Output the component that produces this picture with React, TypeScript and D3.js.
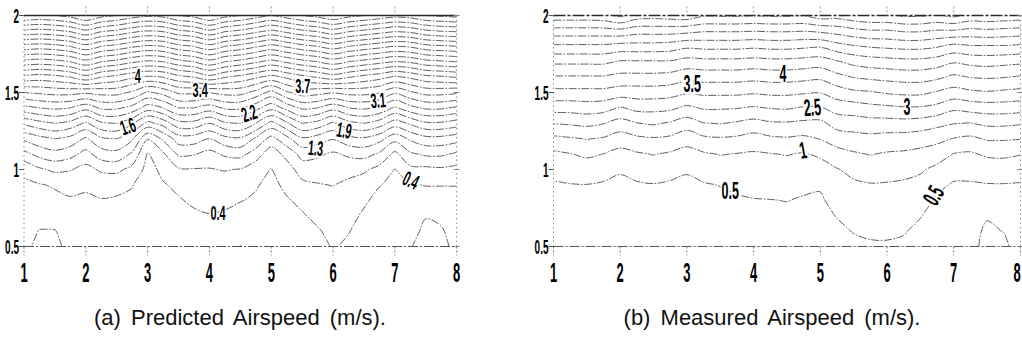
import React from "react";
import * as d3 from "d3";

const W = 1022;
const H = 341;

// grid positions (data units)
const gridX = [1, 1.25, 1.5, 1.75, 2, 2.25, 2.5, 2.75, 3, 3.25, 3.5, 3.75, 4, 4.25, 4.5, 4.75, 5, 5.25, 5.5, 5.75, 6, 6.25, 6.5, 6.75, 7, 7.25, 7.5, 7.75, 8];
const gridY = [0.5, 0.6, 0.7, 0.8, 0.9, 1.0, 1.1, 1.2, 1.3, 1.4, 1.5, 1.6, 1.7, 1.8, 1.9, 2.0];

// (a) predicted airspeed, one column per gridX, values bottom (0.5) to top (2.0)
const predicted = [
  [0.15, 0.2, 0.25, 0.3, 0.36, 0.45, 0.9, 1.35, 1.95, 2.7, 3.4, 4.2, 5.1, 6.0, 6.95, 7.9],
  [0.05, 0.09, 0.2, 0.3, 0.38, 0.65, 1.1, 1.5, 2.1, 2.8, 3.45, 4.15, 5.05, 5.95, 6.9, 7.85],
  [0.06, 0.09, 0.22, 0.33, 0.43, 0.76, 1.2, 1.6, 2.2, 2.85, 3.5, 4.2, 5.1, 6.0, 6.95, 7.9],
  [0.15, 0.2, 0.27, 0.38, 0.46, 0.72, 1.1, 1.5, 2.1, 2.8, 3.5, 4.3, 5.2, 6.1, 7.05, 8.0],
  [0.18, 0.22, 0.28, 0.37, 0.43, 0.6, 0.9, 1.25, 1.85, 2.6, 3.45, 4.5, 5.4, 6.3, 7.25, 8.2],
  [0.2, 0.24, 0.3, 0.39, 0.47, 0.75, 1.15, 1.55, 2.15, 2.85, 3.5, 4.3, 5.2, 6.1, 7.05, 8.0],
  [0.22, 0.26, 0.31, 0.38, 0.45, 0.78, 1.2, 1.6, 2.2, 2.85, 3.5, 4.2, 5.1, 6.0, 6.95, 7.9],
  [0.2, 0.24, 0.3, 0.36, 0.41, 0.6, 0.95, 1.35, 1.95, 2.7, 3.35, 4.05, 4.95, 5.85, 6.8, 7.75],
  [0.18, 0.2, 0.22, 0.25, 0.28, 0.31, 0.37, 0.72, 1.5, 2.35, 3.05, 3.95, 4.85, 5.75, 6.7, 7.65],
  [0.2, 0.22, 0.26, 0.32, 0.38, 0.46, 0.65, 1.05, 1.72, 2.5, 3.2, 4.0, 4.9, 5.8, 6.75, 7.7],
  [0.2, 0.24, 0.3, 0.38, 0.45, 0.66, 1.05, 1.45, 2.1, 2.8, 3.45, 4.2, 5.1, 6.0, 6.95, 7.9],
  [0.22, 0.28, 0.36, 0.44, 0.52, 0.68, 1.02, 1.45, 2.1, 2.8, 3.45, 4.3, 5.2, 6.1, 7.05, 8.0],
  [0.25, 0.31, 0.39, 0.46, 0.55, 0.68, 0.9, 1.3, 1.9, 2.65, 3.42, 4.5, 5.4, 6.3, 7.25, 8.2],
  [0.22, 0.28, 0.37, 0.45, 0.53, 0.72, 1.05, 1.5, 2.15, 2.85, 3.5, 4.32, 5.2, 6.1, 7.05, 8.0],
  [0.09, 0.22, 0.32, 0.41, 0.5, 0.68, 1.1, 1.55, 2.2, 2.85, 3.5, 4.2, 5.1, 6.0, 6.95, 7.9],
  [0.2, 0.25, 0.3, 0.37, 0.42, 0.52, 0.85, 1.25, 1.9, 2.6, 3.3, 4.05, 4.95, 5.85, 6.8, 7.75],
  [0.22, 0.25, 0.28, 0.31, 0.34, 0.39, 0.52, 0.9, 1.5, 2.3, 3.0, 3.9, 4.8, 5.7, 6.65, 7.6],
  [0.25, 0.28, 0.32, 0.38, 0.45, 0.55, 0.8, 1.2, 1.85, 2.6, 3.35, 4.05, 4.95, 5.85, 6.8, 7.75],
  [0.28, 0.32, 0.38, 0.45, 0.62, 0.85, 1.1, 1.55, 2.2, 2.85, 3.55, 4.2, 5.1, 6.0, 6.95, 7.9],
  [0.32, 0.38, 0.45, 0.52, 0.68, 0.85, 1.05, 1.45, 2.1, 2.8, 3.5, 4.32, 5.2, 6.1, 7.05, 8.0],
  [0.42, 0.46, 0.52, 0.6, 0.71, 0.85, 0.95, 1.32, 1.85, 2.6, 3.42, 4.45, 5.35, 6.25, 7.2, 8.15],
  [0.36, 0.41, 0.46, 0.54, 0.63, 0.8, 1.05, 1.5, 2.1, 2.8, 3.5, 4.32, 5.2, 6.1, 7.05, 8.0],
  [0.28, 0.32, 0.37, 0.43, 0.55, 0.75, 1.1, 1.55, 2.2, 2.85, 3.5, 4.2, 5.1, 6.0, 6.95, 7.9],
  [0.2, 0.24, 0.29, 0.34, 0.41, 0.6, 0.95, 1.4, 2.05, 2.75, 3.42, 4.1, 5.0, 5.9, 6.85, 7.8],
  [0.15, 0.2, 0.25, 0.3, 0.35, 0.39, 0.62, 1.1, 1.75, 2.45, 3.15, 3.95, 4.9, 5.8, 6.75, 7.7],
  [0.11, 0.16, 0.24, 0.32, 0.38, 0.62, 0.95, 1.35, 1.95, 2.7, 3.35, 4.05, 4.95, 5.85, 6.8, 7.75],
  [0.03, 0.06, 0.11, 0.28, 0.41, 0.62, 1.05, 1.5, 2.15, 2.85, 3.5, 4.2, 5.1, 6.0, 6.95, 7.9],
  [0.05, 0.08, 0.14, 0.28, 0.41, 0.65, 1.05, 1.5, 2.15, 2.85, 3.5, 4.25, 5.15, 6.05, 7.02, 7.95],
  [0.15, 0.18, 0.22, 0.3, 0.41, 0.6, 0.95, 1.42, 2.05, 2.75, 3.45, 4.32, 5.2, 6.1, 7.05, 8.0],
];

// (b) measured airspeed
const measured = [
  [0.2, 0.27, 0.33, 0.4, 0.46, 0.61, 0.89, 1.38, 2.02, 2.7, 3.35, 3.95, 4.6, 5.4, 6.3, 7.3],
  [0.2, 0.27, 0.34, 0.41, 0.48, 0.72, 0.98, 1.45, 2.06, 2.7, 3.35, 3.95, 4.6, 5.4, 6.3, 7.3],
  [0.2, 0.27, 0.34, 0.42, 0.49, 0.76, 1.08, 1.52, 2.12, 2.75, 3.35, 3.95, 4.6, 5.4, 6.3, 7.3],
  [0.2, 0.27, 0.33, 0.4, 0.46, 0.64, 0.99, 1.45, 2.02, 2.7, 3.35, 3.95, 4.6, 5.4, 6.3, 7.35],
  [0.2, 0.26, 0.32, 0.38, 0.44, 0.53, 0.84, 1.25, 1.81, 2.45, 3.25, 3.85, 4.45, 5.3, 6.35, 7.6],
  [0.2, 0.27, 0.33, 0.4, 0.46, 0.63, 0.94, 1.4, 1.98, 2.65, 3.25, 3.85, 4.45, 5.3, 6.2, 7.25],
  [0.2, 0.27, 0.34, 0.41, 0.48, 0.71, 1.02, 1.45, 2.06, 2.65, 3.25, 3.85, 4.45, 5.3, 6.2, 7.2],
  [0.2, 0.26, 0.33, 0.39, 0.46, 0.6, 0.93, 1.4, 1.94, 2.6, 3.2, 3.8, 4.45, 5.25, 6.2, 7.25],
  [0.2, 0.26, 0.32, 0.38, 0.44, 0.53, 0.82, 1.2, 1.75, 2.4, 3.05, 3.65, 4.3, 5.1, 6.15, 7.3],
  [0.2, 0.27, 0.33, 0.4, 0.47, 0.65, 0.94, 1.4, 1.98, 2.55, 3.1, 3.7, 4.35, 5.15, 6.05, 7.05],
  [0.2, 0.28, 0.35, 0.43, 0.51, 0.75, 1.02, 1.45, 2.02, 2.55, 3.1, 3.7, 4.35, 5.15, 6.05, 7.05],
  [0.2, 0.28, 0.37, 0.45, 0.58, 0.78, 0.98, 1.41, 1.94, 2.52, 3.1, 3.7, 4.35, 5.15, 6.05, 7.05],
  [0.2, 0.29, 0.39, 0.48, 0.63, 0.78, 0.94, 1.3, 1.83, 2.45, 3.05, 3.65, 4.3, 5.1, 6.02, 7.02],
  [0.2, 0.3, 0.4, 0.49, 0.66, 0.82, 0.98, 1.41, 1.94, 2.52, 3.1, 3.7, 4.35, 5.15, 6.05, 7.05],
  [0.2, 0.3, 0.4, 0.51, 0.67, 0.83, 1.02, 1.45, 1.95, 2.55, 3.1, 3.7, 4.35, 5.15, 6.05, 7.05],
  [0.2, 0.29, 0.37, 0.46, 0.59, 0.78, 0.96, 1.4, 1.9, 2.45, 3.05, 3.65, 4.3, 5.1, 6.02, 7.02],
  [0.2, 0.28, 0.36, 0.44, 0.55, 0.8, 1.08, 1.52, 1.88, 2.45, 3.02, 3.6, 4.25, 5.05, 6.1, 7.25],
  [0.3, 0.4, 0.52, 0.66, 0.81, 0.97, 1.31, 1.73, 2.2, 2.7, 3.25, 3.85, 4.45, 5.3, 6.2, 7.2],
  [0.4, 0.52, 0.64, 0.78, 0.92, 1.13, 1.44, 1.81, 2.25, 2.75, 3.4, 4.02, 4.65, 5.45, 6.35, 7.35],
  [0.45, 0.56, 0.69, 0.83, 0.97, 1.22, 1.52, 1.86, 2.3, 2.85, 3.45, 4.1, 4.75, 5.55, 6.45, 7.45],
  [0.45, 0.57, 0.7, 0.83, 0.96, 1.18, 1.45, 1.81, 2.3, 2.9, 3.55, 4.15, 4.8, 5.6, 6.45, 7.45],
  [0.42, 0.53, 0.66, 0.8, 0.93, 1.14, 1.42, 1.79, 2.32, 2.95, 3.6, 4.2, 4.85, 5.65, 6.55, 7.55],
  [0.3, 0.4, 0.52, 0.68, 0.86, 1.06, 1.35, 1.73, 2.27, 2.95, 3.6, 4.2, 4.85, 5.65, 6.55, 7.55],
  [0.2, 0.27, 0.34, 0.44, 0.59, 0.88, 1.23, 1.64, 2.14, 2.85, 3.45, 4.1, 4.75, 5.55, 6.45, 7.45],
  [0.2, 0.27, 0.33, 0.4, 0.46, 0.64, 0.98, 1.48, 2.02, 2.6, 3.3, 3.9, 4.55, 5.35, 6.45, 7.6],
  [0.35, 0.38, 0.41, 0.44, 0.47, 0.6, 0.93, 1.4, 1.98, 2.7, 3.4, 4.02, 4.65, 5.45, 6.35, 7.35],
  [0.65, 0.56, 0.47, 0.46, 0.48, 0.69, 1.08, 1.55, 2.1, 2.75, 3.45, 4.05, 4.7, 5.45, 6.4, 7.4],
  [0.6, 0.49, 0.45, 0.46, 0.48, 0.72, 1.1, 1.55, 2.1, 2.75, 3.4, 4.02, 4.65, 5.45, 6.35, 7.35],
  [0.3, 0.32, 0.36, 0.41, 0.47, 0.66, 1.02, 1.52, 2.05, 2.7, 3.35, 3.95, 4.6, 5.4, 6.3, 7.3],
];

const predictedLevels = [0.1, 0.4, 0.7, 1.0, 1.3, 1.6, 1.9, 2.2, 2.5, 2.8, 3.1, 3.4, 3.7, 4.0, 4.3, 4.6, 4.9, 5.2, 5.5, 5.8, 6.1, 6.4, 6.7, 7.0, 7.3, 7.6, 7.9];
const measuredLevels = [0.5, 1.0, 1.5, 2.0, 2.5, 3.0, 3.5, 4.0, 4.5, 5.0, 5.5, 6.0, 6.5, 7.0, 7.5];

const xTicks = [1, 2, 3, 4, 5, 6, 7, 8];
const yTicks = [0.5, 1, 1.5, 2];
const yTickLabels = ["0.5", "1", "1.5", "2"];

const predictedLabels = [
  { t: "4", x: 2.84, y: 1.614, a: 0 },
  { t: "3.4", x: 3.85, y: 1.523, a: 0 },
  { t: "3.7", x: 5.51, y: 1.549, a: 0 },
  { t: "3.1", x: 6.73, y: 1.451, a: -5 },
  { t: "2.2", x: 4.64, y: 1.367, a: -18 },
  { t: "1.6", x: 2.68, y: 1.282, a: -18 },
  { t: "1.9", x: 6.18, y: 1.256, a: 10 },
  { t: "1.3", x: 5.72, y: 1.14, a: 5 },
  { t: "0.4", x: 4.14, y: 0.718, a: 0 },
  { t: "0.4", x: 7.26, y: 0.932, a: 25 },
];
const measuredLabels = [
  { t: "3.5", x: 3.08, y: 1.562, a: 0 },
  { t: "4", x: 4.44, y: 1.627, a: 0 },
  { t: "2.5", x: 4.88, y: 1.406, a: -5 },
  { t: "3", x: 6.3, y: 1.412, a: 0 },
  { t: "1", x: 4.74, y: 1.127, a: -10 },
  { t: "0.5", x: 3.65, y: 0.867, a: 0 },
  { t: "0.5", x: 6.69, y: 0.834, a: -60 },
];

type Pt = [number, number];

function extractLines(values: number[], nx: number, ny: number, levels: number[]) {
  const gen = d3.contours().size([nx, ny]).thresholds(levels);
  const out: { level: number; pts: Pt[]; closed: boolean }[] = [];
  const isB = (p: Pt) => p[0] <= 0 || p[0] >= nx || p[1] <= 0 || p[1] >= ny;
  for (const c of gen(values)) {
    for (const poly of c.coordinates as any) {
      for (const ring of poly as Pt[][]) {
        const pts = (ring as Pt[]).slice(0, -1);
        const n = pts.length;
        let start = -1;
        for (let i = 0; i < n; i++) if (isB(pts[i])) { start = i; break; }
        if (start < 0) {
          if (n > 2) out.push({ level: c.value, pts, closed: true });
          continue;
        }
        let cur: Pt[] = [];
        for (let k = 1; k <= n; k++) {
          const p = pts[(start + k) % n];
          if (isB(p)) {
            if (cur.length > 1) out.push({ level: c.value, pts: cur, closed: false });
            cur = [];
          } else cur.push(p);
        }
      }
    }
  }
  return out;
}

const FONT = "'Liberation Sans', Arial, Helvetica, sans-serif";

function Narrow({ x, y, text, size, angle = 0, anchor = "middle", halo = false, sx = 0.5 }: any) {
  return (
    <g transform={`translate(${x},${y}) rotate(${angle}) scale(${sx},1)`}>
      <text
        textAnchor={anchor}
        dy="0.36em"
        fontSize={size}
        fontFamily={FONT}
        fontWeight="bold"
        fill="#000"
        stroke={halo ? "#fff" : "none"}
        strokeWidth={halo ? 5 : 0}
        style={{ paintOrder: "stroke" } as any}
      >
        {text}
      </text>
    </g>
  );
}

function Panel({ id, cols, levels, labels, x0, x1, labelSize, caption, captionX }: any) {
  const yTop = 15.5;
  const yBot = 246.5;
  const xScale = d3.scaleLinear().domain([xTicks[0], xTicks[xTicks.length - 1]]).range([x0, x1]);
  const yScale = d3.scaleLinear().domain([yTicks[0], yTicks[yTicks.length - 1]]).range([yBot, yTop]);
  const nx = gridX.length;
  const ny = gridY.length;
  const values: number[] = new Array(nx * ny);
  for (let i = 0; i < nx; i++) for (let j = 0; j < ny; j++) values[j * nx + i] = cols[i][j];
  const uToX = d3.scaleLinear().domain([0.5, nx - 0.5]).range([gridX[0], gridX[nx - 1]]);
  const vToY = d3.scaleLinear().domain([0.5, ny - 0.5]).range([gridY[0], gridY[ny - 1]]);
  const lines = extractLines(values, nx, ny, levels);
  const open = d3.line<Pt>().x((p) => xScale(uToX(p[0]))).y((p) => yScale(vToY(p[1]))).curve(d3.curveCatmullRom.alpha(0.5));
  const closed = d3.line<Pt>().x((p) => xScale(uToX(p[0]))).y((p) => yScale(vToY(p[1]))).curve(d3.curveCatmullRomClosed.alpha(0.5));

  return (
    <g>
      <defs>
        <clipPath id={`clip-${id}`}>
          <rect x={x0} y={yTop} width={x1 - x0} height={yBot - yTop} />
        </clipPath>
      </defs>
      <g clipPath={`url(#clip-${id})`}>
        {lines.map((l, i) => (
          <path
            key={i}
            d={(l.closed ? closed(l.pts) : open(l.pts)) || ""}
            fill="none"
            stroke="#4e4e4e"
            strokeWidth={0.9}
            strokeDasharray="8 1.6 1.6 1.6"
          />
        ))}
      </g>
      {/* frame */}
      <line x1={x0} x2={x1} y1={yTop} y2={yTop} stroke="#2a2a2a" strokeWidth={1.5} strokeDasharray={id === "b" ? "12 2 3 2" : "none"} />
      <line x1={x0} x2={x1} y1={yBot} y2={yBot} stroke="#555" strokeWidth={1} strokeDasharray="10 2 2 2" />
      <line x1={x0} x2={x0} y1={yTop} y2={yBot} stroke="#888" strokeWidth={1} strokeDasharray="1.5 3" />
      <line x1={x1} x2={x1} y1={yTop} y2={yBot} stroke="#888" strokeWidth={1} strokeDasharray="1.5 3" />
      {xTicks.map((t) => (
        <g key={`xt${t}`}>
          <line x1={xScale(t)} x2={xScale(t)} y1={yBot} y2={yBot + 9} stroke="#777" strokeDasharray="2 2" />
          {t > 1 && t < 8 && (
            <line x1={xScale(t)} x2={xScale(t)} y1={yTop - 9} y2={yTop} stroke="#999" strokeDasharray="2 2" />
          )}
          <Narrow x={Math.min(xScale(t), W - 5)} y={272} text={String(t)} size={27} sx={0.48} />
        </g>
      ))}
      {yTicks.map((t, i) => (
        <g key={`yt${t}`}>
          <line x1={x0 - 5} x2={x0} y1={yScale(t)} y2={yScale(t)} stroke="#555" />
          <line x1={x1 - 3} x2={x1 + 3} y1={yScale(t)} y2={yScale(t)} stroke="#888" />
          <Narrow x={x0 - 5} y={yScale(t)} text={yTickLabels[i]} size={20} anchor="end" />
        </g>
      ))}
      {labels.map((l: any, i: number) => (
        <Narrow key={`lb${i}`} x={xScale(l.x)} y={yScale(l.y)} text={l.t} size={labelSize} angle={l.a} halo sx={0.52} />
      ))}
      <text x={captionX} y={325} textAnchor="middle" fontFamily={FONT} fontSize={22} fill="#111" style={{ wordSpacing: "4px" }}>
        {caption}
      </text>
    </g>
  );
}

export default function App() {
  return (
    <svg width={W} height={H} viewBox={`0 0 ${W} ${H}`} style={{ position: "absolute", left: 0, top: 0, background: "#fff" }}>
      <rect x={0} y={0} width={W} height={H} fill="#fff" />
      <Panel id="a" cols={predicted} levels={predictedLevels} labels={predictedLabels} x0={24} x1={456.7} labelSize={21} caption="(a) Predicted Airspeed (m/s)." captionX={240} />
      <Panel id="b" cols={measured} levels={measuredLevels} labels={measuredLabels} x0={553.5} x1={1020.4} labelSize={24} caption="(b) Measured Airspeed (m/s)." captionX={772} />
    </svg>
  );
}
